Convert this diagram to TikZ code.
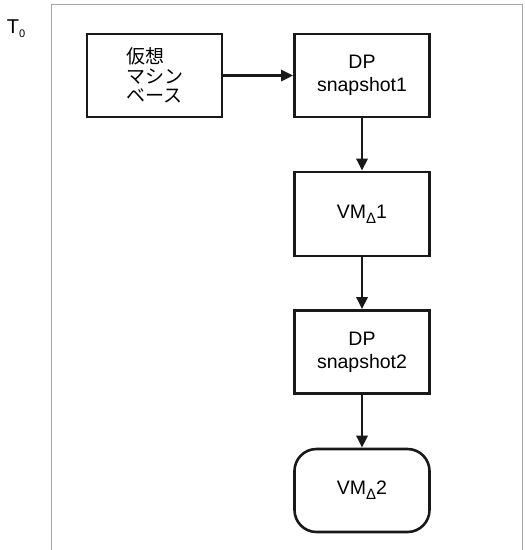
\documentclass[tikz,border=0pt]{standalone}
\usepackage{fontspec}
\setmainfont{Liberation Sans}
\newfontfamily\jpfont{Noto Sans CJK JP}
\usetikzlibrary{arrows.meta}
\newcommand{\dsub}{\raisebox{-5pt}{\fontsize{15}{15}\selectfont Δ}}
\begin{document}
\begin{tikzpicture}[x=1pt,y=-1pt,
  box/.style={draw=black!90,line width=2.6pt,minimum width=135pt,minimum height=83pt,inner sep=0pt,font=\fontsize{19.5}{23}\selectfont,align=center},
  conn/.style={draw=black!90,line width=2.6pt,-{Triangle[length=12pt,width=11pt]}}]
\useasboundingbox (0,0) rectangle (525,550);
\draw[draw=black!35,line width=1.2pt] (51.5,550) -- (51.5,4.5) -- (522.5,4.5) -- (522.5,550);
\node[font=\fontsize{20}{22}\selectfont,inner sep=0pt] (t0) at (16,29) {T\raisebox{-4pt}{\fontsize{11}{12}\selectfont 0}};
\node[box,align=left,font=\jpfont\fontsize{19}{19.5}\selectfont] (b1) at (154.5,75.5) {仮想\\マシン\\ベース};
\node[box] (b2) at (362,75.5) {DP\\snapshot1};
\node[box,minimum height=84pt] (b3) at (362,214) {VM\dsub 1};
\node[box] (b4) at (362,352) {DP\\snapshot2};
\node[box,rounded corners=22pt] (b5) at (362,490.5) {VM\dsub 2};
\draw[conn] (b1) -- (b2);
\draw[conn] (b2) -- (b3);
\draw[conn] (b3) -- (b4);
\draw[conn] (b4) -- (b5);
\end{tikzpicture}
\end{document}
